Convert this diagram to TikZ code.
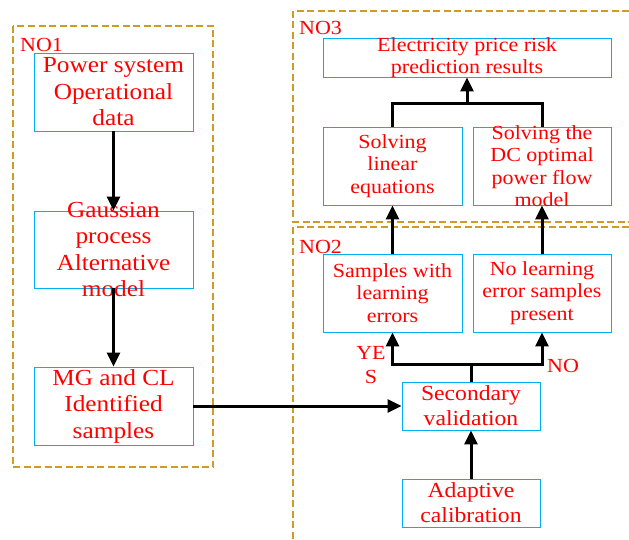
\documentclass[tikz,border=0pt]{standalone}
\usepackage{fontspec}
\setmainfont[FakeStretch=1.1]{Liberation Serif}
\usetikzlibrary{arrows.meta}
\definecolor{boxblue}{RGB}{0,176,240}
\definecolor{dashgold}{RGB}{205,155,40}
\begin{document}
\begin{tikzpicture}[x=1pt,y=-1pt,
  box/.style={draw=boxblue, line width=0.9pt, inner sep=0pt, rectangle},
  wh/.style 2 args={minimum width=#1pt, minimum height=#2pt},
  tL/.style={text=red, align=center, inner sep=0pt, font=\fontsize{23}{26.5}\selectfont},
  tM/.style={text=red, align=center, inner sep=0pt, font=\fontsize{21.5}{25}\selectfont},
  tS/.style={text=red, align=center, inner sep=0pt, font=\fontsize{20}{22.5}\selectfont},
  grp/.style={draw=dashgold, line width=1.1pt, dash pattern=on 7pt off 3.5pt},
  glabel/.style={text=red, inner sep=0pt, font=\fontsize{20}{22}\selectfont},
  arr/.style={line width=3pt, -{Triangle[length=14pt,width=13pt]}},
  conn/.style={line width=3pt}]
\useasboundingbox (0,0) rectangle (629,540);

% group frames
\draw[grp] (13,26) rectangle (213,467);
\draw[grp] (629,11) -- (293,11) -- (293,222) -- (629,222);
\draw[grp] (629,227) -- (293,227) -- (293,540);
\node[glabel, anchor=base west] (no1) at (20,52) {NO1};
\node[glabel, anchor=base west] (no3) at (299,35) {NO3};
\node[glabel, anchor=base west] (no2) at (299,253) {NO2};

% NO1 boxes
\node[box, wh={159}{78}, label={[tL]center:{Power system\\Operational\\data}}] (b1) at (113.5,92) {};
\node[box, wh={159}{77}, label={[tL]center:{Gaussian\\process\\Alternative\\model}}] (b2) at (113.5,249.5) {};
\node[box, wh={159}{78}, label={[tL]center:{MG and CL\\Identified\\samples}}] (b3) at (113.5,406) {};

% NO3 boxes
\node[box, wh={288}{39}, label={[tS]center:{Electricity price risk\\prediction results}}] (e) at (467,57.5) {};
\node[box, wh={139}{78}, label={[tS]center:{Solving\\linear\\equations}}] (sl) at (392.5,166) {};
\node[box, wh={138}{78}, label={[tS]center:{Solving the\\DC optimal\\power flow\\model}}] (sd) at (542,166) {};

% NO2 boxes
\node[box, wh={139}{78}, label={[tS]center:{Samples with\\learning\\errors}}] (sw) at (392.5,293) {};
\node[box, wh={138}{78}, label={[tS]center:{No learning\\error samples\\present}}] (nl) at (542,293) {};
\node[box, wh={138}{48}, label={[tM]center:{Secondary\\validation}}] (sv) at (471,406) {};
\node[box, wh={138}{48}, label={[tM]center:{Adaptive\\calibration}}] (ac) at (471,503) {};

\node[glabel, align=center, font=\fontsize{20}{24}\selectfont] (yes) at (371,365) {YE\\S};
\node[glabel, anchor=base west] (no) at (547,372) {NO};

% connectors
\draw[arr] (b1.south) -- (b2.north);
\draw[arr] (b2.south) -- (b3.north);
\draw[arr] (b3.east) -- (sv.west);
\draw[arr] (ac.north) -- (sv.south);
\coordinate (j1) at (471,364);
\draw[conn] (sv.north) -- (j1);
\draw[arr] (j1) -| (sw.south);
\draw[arr] (j1) -| (nl.south);
\draw[arr] (sw.north) -- (sl.south);
\draw[arr] (nl.north) -- (sd.south);
\coordinate (j2) at (467,104);
\draw[conn] (sl.north) |- (j2) -| (sd.north);
\draw[arr] (j2) -- (e.south);
\end{tikzpicture}
\end{document}
